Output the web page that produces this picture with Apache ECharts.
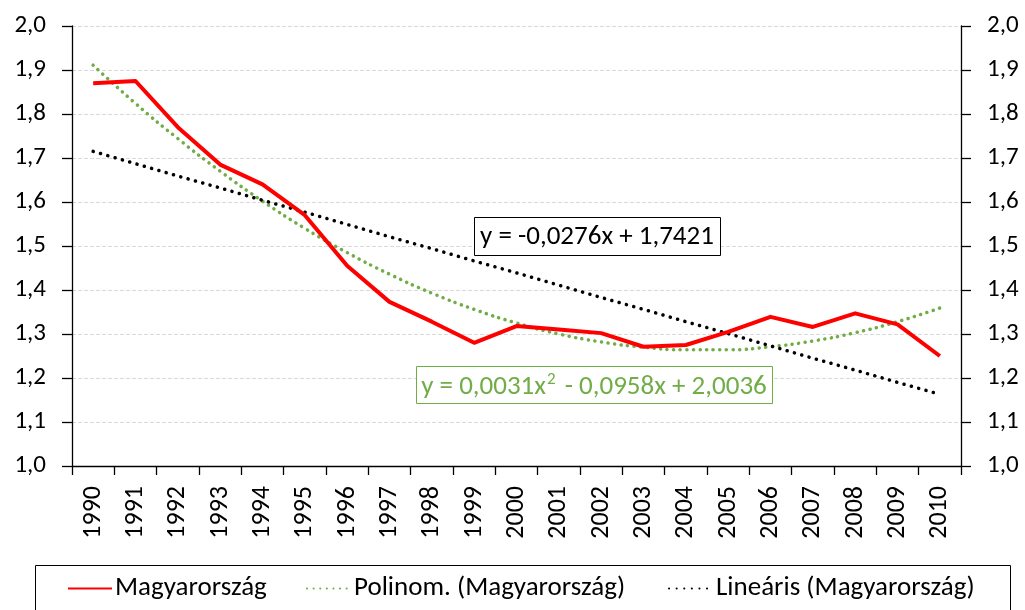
<!DOCTYPE html>
<html>
<head>
<meta charset="utf-8">
<script src="https://cdn.jsdelivr.net/npm/echarts@6/dist/echarts.min.js"></script>
<style>html,body{margin:0;padding:0;background:#fff;}#c{width:1025px;height:610px;}</style>
</head>
<body>
<div id="c"></div>
<script>
var years = ['1990','1991','1992','1993','1994','1995','1996','1997','1998','1999','2000','2001','2002','2003','2004','2005','2006','2007','2008','2009','2010'];
var magyarorszag = [1.87,1.875,1.77,1.685,1.64,1.57,1.455,1.373,1.328,1.28,1.318,1.31,1.302,1.271,1.275,1.305,1.339,1.316,1.347,1.322,1.25];
var polinom = [1.911,1.824,1.744,1.670,1.602,1.540,1.485,1.436,1.393,1.356,1.325,1.300,1.282,1.270,1.264,1.264,1.271,1.284,1.303,1.328,1.359];
var linearis = [1.715,1.687,1.659,1.632,1.604,1.577,1.549,1.521,1.494,1.466,1.439,1.411,1.383,1.356,1.328,1.301,1.273,1.245,1.218,1.190,1.163];
var yTicks = {min:1.0, max:2.0, step:0.1};
var seriesNames = ['Magyarország','Polinom. (Magyarország)','Lineáris (Magyarország)'];
var eqLinear = 'y = -0,0276x + 1,7421';
var eqPoly = ['y = 0,0031x', '2', ' - 0,0958x + 2,0036'];

var FONT = 'Carlito, Lato, "Open Sans", sans-serif';
var fmt = function(v){ return v.toFixed(1).replace('.', ','); };
var yAxisBase = {
  type:'value', min:yTicks.min, max:yTicks.max, interval:yTicks.step,
  axisLine:{show:true, lineStyle:{color:'#000', width:1.3}},
  axisTick:{show:true, length:10, lineStyle:{color:'#000', width:1.3}},
  axisLabel:{formatter:fmt, color:'#000', fontSize:25, fontFamily:FONT, margin:26},
  splitLine:{show:true, lineStyle:{color:'#d9d9d9', type:'dashed', width:1}}
};
function legendAt(left, idx){
  return {
    data:[seriesNames[idx]], left:left, top:575, padding:0, itemWidth:44, itemHeight:14,
    itemStyle:{opacity:0},
    textStyle:{color:'#000', fontSize:27, fontFamily:FONT, padding:[0,0,0,-2]}
  };
}
var chart = echarts.init(document.getElementById('c'));
chart.setOption({
  animation:false,
  backgroundColor:'#fff',
  grid:{left:72, right:64, top:26, bottom:144},
  xAxis:{type:'category', data:years, boundaryGap:true,
    axisLine:{lineStyle:{color:'#000', width:1.3}},
    axisTick:{show:true, length:9, interval:0, lineStyle:{color:'#000', width:1.3}},
    axisLabel:{rotate:90, interval:0, color:'#000', fontSize:26, fontFamily:FONT, margin:20}
  },
  yAxis:[
    Object.assign({}, yAxisBase, {position:'left'}),
    Object.assign({}, yAxisBase, {position:'right', splitLine:{show:false}})
  ],
  legend:[legendAt(67,0), legendAt(306,1), legendAt(668,2)],
  graphic:[
    {type:'rect', left:33, top:563, shape:{width:975, height:70}, style:{fill:'none', stroke:'#000', lineWidth:1}, z:-1},
    {type:'rect', left:474, top:217, shape:{width:246, height:38}, style:{fill:'#fff', stroke:'#000', lineWidth:1}, z:10},
    {type:'text', x:597, y:237, style:{text:eqLinear, fill:'#000', font:'27px ' + FONT, textAlign:'center', textVerticalAlign:'middle'}, z:11},
    {type:'rect', left:416, top:366, shape:{width:356, height:37}, style:{fill:'#fff', stroke:'#70AD47', lineWidth:1}, z:10},
    {type:'text', x:594, y:386, style:{
      text:'{a|' + eqPoly[0] + '}{s|' + eqPoly[1] + '}{a|' + eqPoly[2] + '}',
      textAlign:'center', textVerticalAlign:'middle',
      rich:{a:{fill:'#70AD47', fontSize:27, fontFamily:FONT, verticalAlign:'bottom'}, s:{fill:'#70AD47', fontSize:17, fontFamily:FONT, verticalAlign:'top', padding:[0,3,12,1]}}
    }, z:11}
  ],
  series:[
    {name:seriesNames[0], type:'line', data:magyarorszag, symbol:'none', z:3,
      lineStyle:{color:'#FF0000', width:4, join:'round'}, itemStyle:{color:'#FF0000'}},
    {name:seriesNames[1], type:'line', data:polinom, symbol:'none', smooth:true, z:2,
      lineStyle:{color:'#70AD47', width:3.5, type:[0.1,6.5], cap:'round'}, itemStyle:{color:'#70AD47'}},
    {name:seriesNames[2], type:'line', data:linearis, symbol:'none', z:2,
      lineStyle:{color:'#000', width:3.5, type:[0.1,7.5], cap:'round'}, itemStyle:{color:'#000'}}
  ]
});
</script>
</body>
</html>
